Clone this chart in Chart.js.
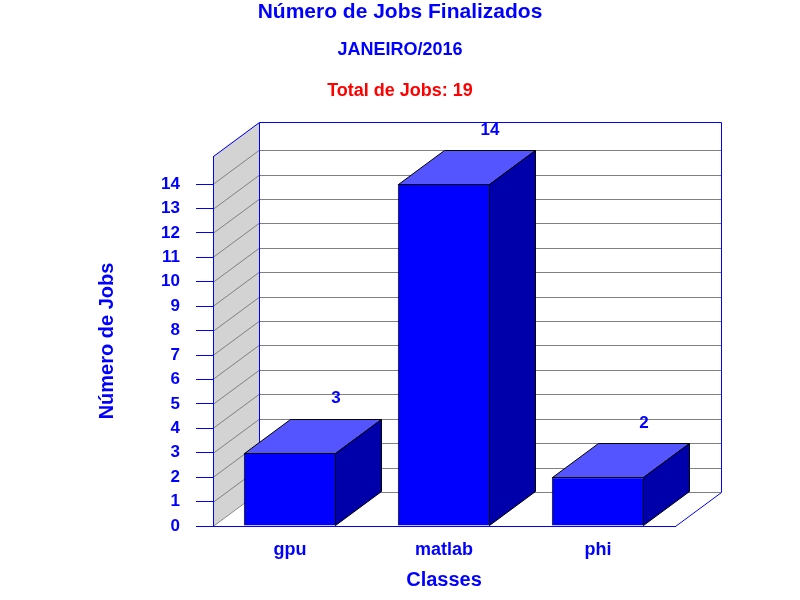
<!DOCTYPE html>
<html>
<head>
<meta charset="utf-8">
<script src="https://cdn.jsdelivr.net/npm/chart.js@4.4.0/dist/chart.umd.min.js"></script>
<style>
  body { margin: 0; background: #fff; }
  #box { width: 800px; height: 600px; }
</style>
</head>
<body>
<div id="box"><canvas id="grafico"></canvas></div>
<script>
var classes = ['gpu', 'matlab', 'phi'];
var jobs = [3, 14, 2];
var yTicks = [0, 1, 2, 3, 4, 5, 6, 7, 8, 9, 10, 11, 12, 13, 14];
var titulo = 'Número de Jobs Finalizados';
var periodo = 'JANEIRO/2016';

var AZUL = '#0000ff';
var FONTE = '"Liberation Sans", Arial, sans-serif';
// deslocamento da profundidade 3d
var DX = 46, DY = -34;

function totalJobs() {
  var s = 0;
  for (var i = 0; i < jobs.length; i++) s += jobs[i];
  return s;
}

var caixa3d = {
  id: 'caixa3d',
  beforeDraw: function(chart) {
    var ctx = chart.ctx, a = chart.chartArea, y = chart.scales.y;
    ctx.save();
    // parede lateral cinza
    ctx.fillStyle = '#d3d3d3';
    ctx.beginPath();
    ctx.moveTo(a.left, a.bottom);
    ctx.lineTo(a.left, a.top);
    ctx.lineTo(a.left + DX, a.top + DY);
    ctx.lineTo(a.left + DX, a.bottom + DY);
    ctx.closePath();
    ctx.fill();

    // linhas de grade (lateral + fundo)
    ctx.strokeStyle = '#808080';
    ctx.lineWidth = 1;
    yTicks.forEach(function(v) {
      var py = Math.round(y.getPixelForValue(v)) + 0.5;
      ctx.beginPath();
      ctx.moveTo(a.left, py);
      ctx.lineTo(a.left + DX, py + DY);
      ctx.lineTo(a.right + DX, py + DY);
      ctx.stroke();
    });

    // bordas azuis
    var l = Math.round(a.left) + 0.5, r = Math.round(a.right) + 0.5;
    var t = Math.round(a.top) + 0.5, b = Math.round(a.bottom) + 0.5;
    ctx.strokeStyle = AZUL;
    ctx.beginPath();
    ctx.moveTo(l, t);
    ctx.lineTo(l + DX, t + DY);
    ctx.lineTo(r + DX, t + DY);
    ctx.lineTo(r + DX, b + DY);
    ctx.lineTo(r, b);
    ctx.moveTo(l + DX, t + DY);
    ctx.lineTo(l + DX, b + DY);
    ctx.stroke();
    ctx.restore();
  },
  afterDatasetsDraw: function(chart) {
    var ctx = chart.ctx;
    var meta = chart.getDatasetMeta(0);
    ctx.save();
    ctx.lineWidth = 1;
    ctx.strokeStyle = '#000';
    meta.data.forEach(function(bar, i) {
      var l = Math.round(bar.x - bar.width / 2) + 0.5;
      var r = Math.round(bar.x + bar.width / 2) - 0.5;
      var t = Math.round(bar.y) + 0.5;
      var b = Math.round(bar.base) - 0.5;
      // topo
      ctx.fillStyle = '#5555ff';
      ctx.beginPath();
      ctx.moveTo(l, t);
      ctx.lineTo(l + DX, t + DY);
      ctx.lineTo(r + DX, t + DY);
      ctx.lineTo(r, t);
      ctx.closePath();
      ctx.fill();
      ctx.stroke();
      // lado
      ctx.fillStyle = '#0000aa';
      ctx.beginPath();
      ctx.moveTo(r, t);
      ctx.lineTo(r + DX, t + DY);
      ctx.lineTo(r + DX, b + DY);
      ctx.lineTo(r, b);
      ctx.closePath();
      ctx.fill();
      ctx.stroke();
      // valor
      ctx.fillStyle = AZUL;
      ctx.font = 'bold 17px ' + FONTE;
      ctx.textAlign = 'center';
      ctx.textBaseline = 'middle';
      ctx.fillText(String(jobs[i]), bar.x + DX, bar.y + DY - 20);
    });
    ctx.restore();
  },
  afterDraw: function(chart) {
    var ctx = chart.ctx;
    ctx.save();
    ctx.textAlign = 'center';
    ctx.textBaseline = 'middle';
    ctx.fillStyle = AZUL;
    ctx.font = 'bold 21px ' + FONTE;
    ctx.fillText(titulo, 400, 12);
    ctx.font = 'bold 18px ' + FONTE;
    ctx.fillText(periodo, 400, 50);
    ctx.fillStyle = '#ff0000';
    ctx.font = 'bold 18px ' + FONTE;
    ctx.fillText('Total de Jobs: ' + totalJobs(), 400, 91);
    ctx.restore();
  }
};

var chart = new Chart(document.getElementById('grafico'), {
  type: 'bar',
  data: {
    labels: classes,
    datasets: [{
      data: jobs,
      backgroundColor: AZUL,
      borderColor: '#000',
      borderWidth: 1,
      categoryPercentage: 1,
      barPercentage: 0.6
    }]
  },
  options: {
    responsive: true,
    maintainAspectRatio: false,
    animation: false,
    devicePixelRatio: 1,
    layout: { padding: { top: 156, left: 90, right: 125, bottom: 0 } },
    plugins: {
      legend: { display: false },
      tooltip: { enabled: false }
    },
    scales: {
      x: {
        afterFit: function(s) { s.height = 74; },
        grid: { display: true, drawOnChartArea: false, drawTicks: false },
        border: { color: AZUL, width: 1 },
        ticks: { color: AZUL, padding: 13, font: { family: FONTE, size: 18, weight: 'bold' } },
        title: {
          display: true, text: 'Classes', color: AZUL,
          padding: { top: 0, bottom: 8 },
          font: { family: FONTE, size: 20, weight: 'bold' }
        }
      },
      y: {
        min: 0,
        max: 15.15,
        afterFit: function(s) { s.width = 123; },
        afterBuildTicks: function(s) {
          s.ticks = yTicks.map(function(v) { return { value: v }; });
        },
        grid: { drawOnChartArea: false, drawTicks: true, tickLength: 17, tickColor: AZUL },
        border: { color: AZUL, width: 1 },
        ticks: { color: AZUL, padding: 16, font: { family: FONTE, size: 17, weight: 'bold' } },
        title: {
          display: true, text: 'Número de Jobs', color: AZUL,
          padding: { top: 5, bottom: 0 },
          font: { family: FONTE, size: 20, weight: 'bold' }
        }
      }
    }
  },
  plugins: [caixa3d]
});
</script>
</body>
</html>
